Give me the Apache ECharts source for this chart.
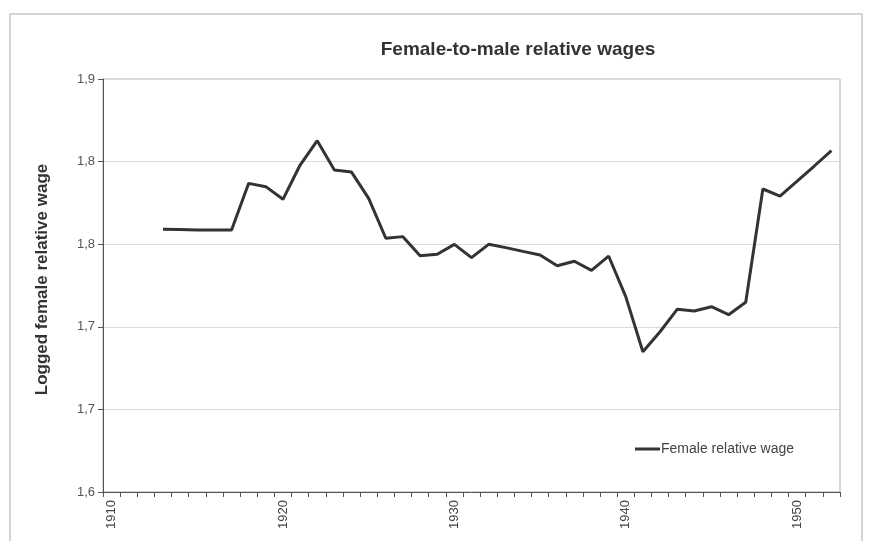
<!DOCTYPE html>
<html>
<head>
<meta charset="utf-8">
<script src="https://cdn.jsdelivr.net/npm/echarts@6/dist/echarts.min.js"></script>
<style>html,body{margin:0;padding:0;background:#fff;}#c{width:870px;height:541px;}</style>
</head>
<body>
<div id="c"></div>
<script>
const years = [];
for (let y = 1910; y <= 1952; y++) years.push(String(y));
const femaleRelativeWage = [
  null, null, null,
  1.7908, 1.7906, 1.7904, 1.7903, 1.7903,
  1.8242, 1.8218, 1.8126, 1.8375, 1.8552, 1.8339, 1.8324, 1.8133,
  1.7843, 1.7855, 1.7716, 1.7727, 1.7799, 1.7702, 1.7799, 1.7775,
  1.7748, 1.7722, 1.7644, 1.7676, 1.7610, 1.7714, 1.7419, 1.7019,
  1.7164, 1.7327, 1.7315, 1.7346, 1.7288, 1.7378, 1.8201, 1.8150,
  1.8259, 1.8368, 1.8479
];
const yTickLabels = ['1,6', '1,7', '1,7', '1,8', '1,8', '1,9'];
const xLabelYears = ['1910', '1920', '1930', '1940', '1950'];

const chart = echarts.init(document.getElementById('c'));
chart.setOption({
  backgroundColor: '#fff',
  animation: false,
  textStyle: { fontFamily: 'Liberation Sans, Arial, sans-serif' },
  graphic: [{
    type: 'rect',
    shape: { x: 10, y: 14, width: 852, height: 540 },
    style: { fill: 'none', stroke: '#c8c8c8', lineWidth: 1.5 },
    silent: true
  }],
  title: {
    text: 'Female-to-male relative wages',
    left: 513, top: 35, textAlign: 'center',
    textStyle: { fontSize: 19, fontWeight: 'bold', color: '#333' }
  },
  legend: {
    left: 630, top: 437,
    itemWidth: 25, itemHeight: 16,
    itemGap: 0,
    textStyle: { fontSize: 14, color: '#444', padding: [0, 0, 0, -4] },
    data: [{ name: 'Female relative wage', icon: 'path://M0,6.5 L25,6.5 L25,9.5 L0,9.5 Z', itemStyle: { color: '#333' } }]
  },
  grid: {
    left: 103, right: 30, top: 79, bottom: 49,
    show: true, borderColor: '#aaa', borderWidth: 1, backgroundColor: '#fff'
  },
  xAxis: {
    type: 'category',
    data: years,
    boundaryGap: true,
    axisLine: { lineStyle: { color: '#555', width: 1 } },
    axisTick: { show: true, interval: 0, length: 5, lineStyle: { color: '#555' } },
    axisLabel: {
      interval: function (i, v) { return xLabelYears.indexOf(v) >= 0; },
      rotate: 90, fontSize: 13, color: '#444', margin: 8
    },
    splitLine: { show: false }
  },
  yAxis: {
    type: 'value',
    min: 1.6, max: 1.9, interval: 0.06,
    name: 'Logged female relative wage',
    nameLocation: 'middle', nameGap: 52, nameRotate: 90,
    nameTextStyle: { fontSize: 17, fontWeight: 'bold', color: '#333', padding: [0, 0, 0, 12] },
    axisLine: { show: true, lineStyle: { color: '#555', width: 1 } },
    axisTick: { show: true, length: 5, lineStyle: { color: '#555' } },
    axisLabel: {
      fontSize: 13, color: '#555', margin: 8,
      formatter: function (v) { return yTickLabels[Math.round((v - 1.6) / 0.06)]; }
    },
    splitLine: { show: true, lineStyle: { color: '#dadada', width: 1 } }
  },
  series: [{
    name: 'Female relative wage',
    type: 'line',
    data: femaleRelativeWage,
    symbol: 'none',
    connectNulls: false,
    lineStyle: { color: '#333', width: 3 },
    itemStyle: { color: '#333' }
  }]
});
</script>
</body>
</html>
